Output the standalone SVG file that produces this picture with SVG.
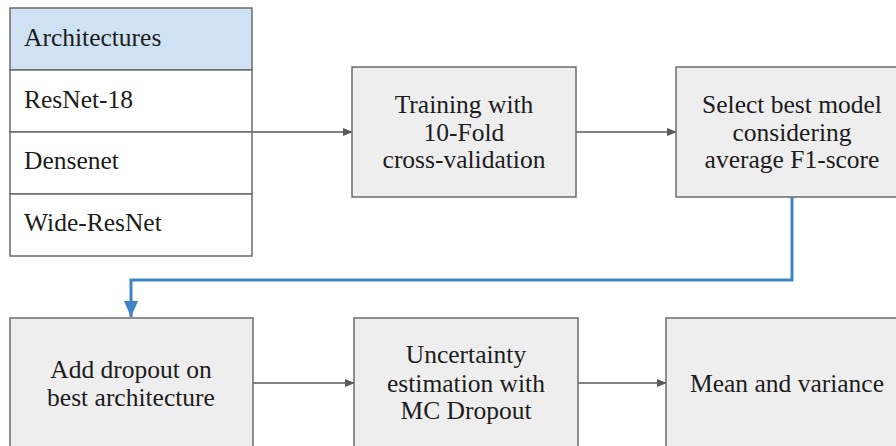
<svg xmlns="http://www.w3.org/2000/svg" width="896" height="446" viewBox="0 0 896 446">
<style>
text{font-family:"Liberation Serif","Times New Roman",serif;font-size:25.5px;fill:#1c1c1c}
.c{text-anchor:middle}
.box{fill:#eeeeee;stroke:#6b6b6b;stroke-width:1.5}
.cell{fill:#ffffff;stroke:#6b6b6b;stroke-width:1.5}
.con{fill:none;stroke:#595959;stroke-width:1.3}
.blue{fill:none;stroke:#3d85c6;stroke-width:3}
</style>
<defs>
<marker id="ah" markerWidth="10" markerHeight="8" refX="9" refY="4" orient="auto" markerUnits="userSpaceOnUse">
<path d="M0,0 L10,4 L0,8 Z" fill="#595959"/>
</marker>
<marker id="bh" markerWidth="16" markerHeight="17" refX="8" refY="16" orient="0" markerUnits="userSpaceOnUse">
<path d="M1,0 L15,0 L8,16 Z" fill="#3d85c6"/>
</marker>
</defs>
<g id="connectors">
<line class="con" x1="252" y1="132" x2="352" y2="132" marker-end="url(#ah)"/>
<line class="con" x1="576" y1="132" x2="676" y2="132" marker-end="url(#ah)"/>
<line class="con" x1="253" y1="383" x2="354" y2="383" marker-end="url(#ah)"/>
<line class="con" x1="578" y1="383" x2="666" y2="383" marker-end="url(#ah)"/>
<path class="blue" d="M792,197 V280 H131 V317" marker-end="url(#bh)"/>
</g>
<g id="architectures">
<rect x="10" y="8" width="242" height="62" fill="#cfe2f3" stroke="#6b6b6b" stroke-width="1.5"/>
<rect class="cell" x="10" y="70" width="242" height="62"/>
<rect class="cell" x="10" y="132" width="242" height="62"/>
<rect class="cell" x="10" y="194" width="242" height="62"/>
<text x="24" y="46">Architectures</text>
<text x="24" y="108">ResNet-18</text>
<text x="24" y="169">Densenet</text>
<text x="24" y="231">Wide-ResNet</text>
</g>
<g id="training">
<rect class="box" x="352" y="67" width="224" height="130"/>
<text class="c" x="464" y="113">Training with</text>
<text class="c" x="464" y="141">10-Fold</text>
<text class="c" x="464" y="168">cross-validation</text>
</g>
<g id="select">
<rect class="box" x="676" y="67" width="224" height="130"/>
<text class="c" x="792" y="113">Select best model</text>
<text class="c" x="792" y="141">considering</text>
<text class="c" x="792" y="168">average F1-score</text>
</g>
<g id="dropout">
<rect class="box" x="10" y="318" width="243" height="140"/>
<text class="c" x="131" y="378">Add dropout on</text>
<text class="c" x="131" y="406">best architecture</text>
</g>
<g id="uncertainty">
<rect class="box" x="354" y="318" width="224" height="140"/>
<text class="c" x="466" y="363">Uncertainty</text>
<text class="c" x="466" y="392">estimation with</text>
<text class="c" x="466" y="419">MC Dropout</text>
</g>
<g id="mean">
<rect class="box" x="666" y="318" width="240" height="140"/>
<text class="c" x="787" y="392">Mean and variance</text>
</g>
</svg>
